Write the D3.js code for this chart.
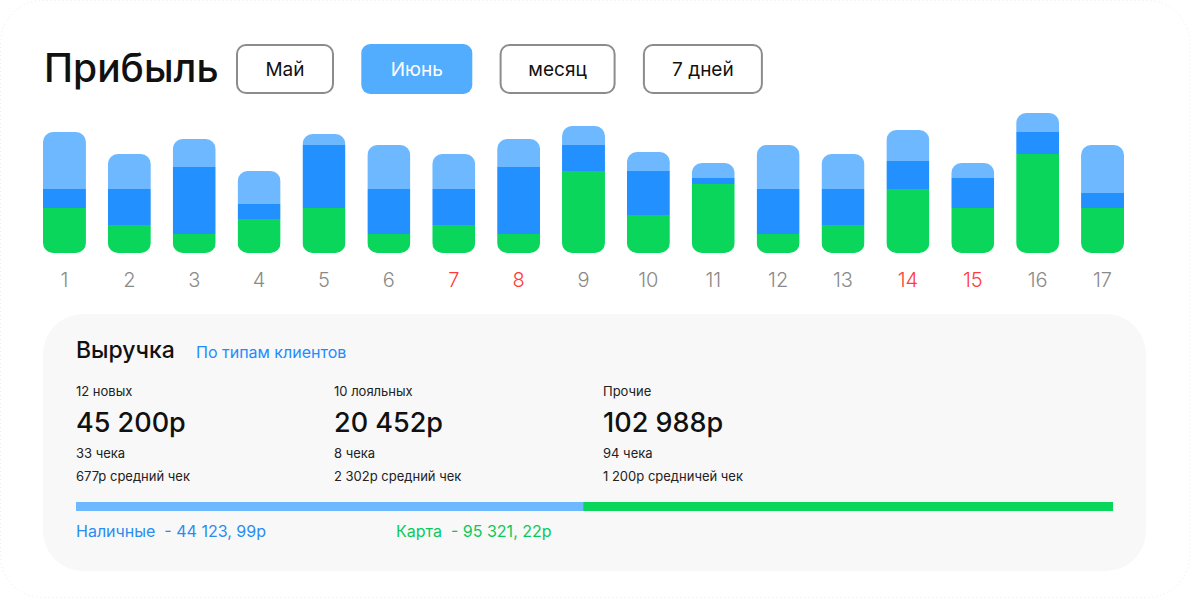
<!DOCTYPE html>
<html>
<head>
<meta charset="utf-8">
<script src="https://cdn.jsdelivr.net/npm/d3@7"></script>
<style>
    body { margin: 0; background: #ffffff; }
    svg { display: block; font-family: Inter, "Noto Sans", sans-serif; }
    text { white-space: pre; }
</style>
</head>
<body>
<div class="chartBox"></div>
<script>
// #region Data
const days = d3.range(1, 18).map(String);
const weekendDays = ['7', '8', '14', '15'];
const greenValues = [45, 28, 19, 34, 45, 19, 28, 19, 82, 38, 69, 19, 28, 64, 45, 99, 45];
const darkValues = [19, 36, 67, 15, 63, 45, 36, 67, 26, 44, 6, 45, 36, 28, 30, 22, 15];
const lightValues = [57, 35, 28, 33, 11, 44, 35, 28, 19, 19, 15, 44, 35, 31, 15, 19, 48];

const periods = ['Май', 'Июнь', 'месяц', '7 дней'];
const activePeriod = 'Июнь';

const clientGroups = ['12 новых', '10 лояльных', 'Прочие'];
const clientSums = ['45 200р', '20 452р', '102 988р'];
const clientChecks = ['33 чека', '8 чека', '94 чека'];
const clientAvg = ['677р средний чек', '2 302р средний чек', '1 200р средничей чек'];

const payTypes = ['Наличные', 'Карта'];
const payAmounts = ['44 123, 99р', '95 321, 22р'];
const payShares = [48.9, 51.1];
// #endregion

const W = 1190, H = 598;
const colors = { green: '#0AD65C', dark: '#2390FF', light: '#6DB8FF' };
const btnWidths = [98, 111, 116, 120];

const svg = d3.select('.chartBox').append('svg')
    .attr('width', W)
    .attr('height', H);

// outer card
svg.append('rect')
    .attr('x', 0.5).attr('y', 0.5)
    .attr('width', W - 1).attr('height', H - 1)
    .attr('rx', 42)
    .attr('fill', '#fff')
    .attr('stroke', '#ececec')
    .attr('stroke-dasharray', '1,3');

// #region Title + period buttons
svg.append('text')
    .attr('x', 44).attr('y', 82)
    .attr('font-size', 39)
    .attr('font-weight', 500)
    .attr('fill', '#111')
    .text('Прибыль');

let btnX = 236;
periods.forEach((p, i) => {
    const g = svg.append('g').attr('class', 'periodBtn');
    const active = p === activePeriod;
    const w = btnWidths[i];
    g.append('rect')
        .attr('x', active ? btnX : btnX + 1).attr('y', active ? 44 : 45)
        .attr('width', active ? w : w - 2).attr('height', active ? 50 : 48)
        .attr('rx', 9)
        .attr('fill', active ? '#52ADFF' : '#fff')
        .attr('stroke', active ? 'none' : '#8c8c8c')
        .attr('stroke-width', 2);
    g.append('text')
        .attr('x', btnX + w / 2).attr('y', 76)
        .attr('font-size', 19)
        .attr('fill', active ? '#fff' : '#111')
        .attr('text-anchor', 'middle')
        .text(p);
    btnX += w + 27.3;
});
// #endregion

// #region Stacked bars
const table = days.map((d, i) => ({ day: d, green: greenValues[i], dark: darkValues[i], light: lightValues[i] }));
const keys = ['green', 'dark', 'light'];
const stacked = d3.stack().keys(keys)(table);

const xScale = d3.scaleBand()
    .domain(days)
    .range([43, 1124])
    .paddingInner(0.338)
    .paddingOuter(0);
const yScale = d3.scaleLinear()
    .domain([0, 140])
    .range([253, 113]);

const defs = svg.append('defs');
table.forEach((d, i) => {
    const total = d.green + d.dark + d.light;
    defs.append('clipPath')
        .attr('id', 'barClip' + i)
        .append('rect')
        .attr('x', xScale(d.day))
        .attr('y', yScale(total))
        .attr('width', xScale.bandwidth())
        .attr('height', yScale(0) - yScale(total))
        .attr('rx', 10);
});

const gBars = svg.append('g').attr('class', 'gBars');
stacked.forEach(layer => {
    gBars.selectAll('.seg' + layer.key)
        .data(layer)
        .enter()
        .append('rect')
        .attr('class', 'seg' + layer.key)
        .attr('clip-path', (d, i) => 'url(#barClip' + i + ')')
        .attr('x', d => xScale(d.data.day))
        .attr('y', d => yScale(d[1]))
        .attr('width', xScale.bandwidth())
        .attr('height', d => yScale(d[0]) - yScale(d[1]))
        .attr('fill', colors[layer.key]);
});

svg.append('g').attr('class', 'xLabels')
    .selectAll('text')
    .data(days)
    .enter()
    .append('text')
    .attr('x', d => xScale(d) + xScale.bandwidth() / 2)
    .attr('y', 287)
    .attr('text-anchor', 'middle')
    .attr('font-size', 20)
    .attr('font-weight', 300)
    .attr('fill', d => weekendDays.includes(d) ? '#FF3B3B' : '#8a8a8a')
    .text(d => d);
// #endregion

// #region Revenue panel
svg.append('rect')
    .attr('x', 43).attr('y', 314)
    .attr('width', 1103).attr('height', 257)
    .attr('rx', 40)
    .attr('fill', '#f8f8f8');

svg.append('text')
    .attr('x', 76).attr('y', 358)
    .attr('font-size', 23)
    .attr('font-weight', 500)
    .attr('fill', '#111')
    .text('Выручка');
svg.append('text')
    .attr('x', 196).attr('y', 358)
    .attr('font-size', 16)
    .attr('fill', '#1E8CFF')
    .text('По типам клиентов');

const colX = [76, 334, 603];
const gClients = svg.append('g').attr('class', 'gClients');
clientGroups.forEach((c, i) => {
    const g = gClients.append('g').attr('transform', 'translate(' + colX[i] + ',0)');
    g.append('text').attr('y', 396).attr('font-size', 13).attr('fill', '#222').text(c);
    g.append('text').attr('y', 432).attr('font-size', 27).attr('font-weight', 500).attr('fill', '#111').text(clientSums[i]);
    g.append('text').attr('y', 458).attr('font-size', 13).attr('fill', '#222').text(clientChecks[i]);
    g.append('text').attr('y', 481).attr('font-size', 13).attr('fill', '#222').text(clientAvg[i]);
});

const payScale = d3.scaleLinear().domain([0, 100]).range([76, 1113]);
const payColors = [colors.light, colors.green];
const payTextColors = ['#2A8CF0', '#0AC95A'];
let acc = 0;
payShares.forEach((s, i) => {
    svg.append('rect')
        .attr('x', payScale(acc))
        .attr('y', 502)
        .attr('width', payScale(acc + s) - payScale(acc))
        .attr('height', 9)
        .attr('fill', payColors[i]);
    acc += s;
});
const legendX = [76, 396];
payTypes.forEach((p, i) => {
    svg.append('text')
        .attr('x', legendX[i]).attr('y', 537)
        .attr('font-size', 16)
        .attr('fill', payTextColors[i])
        .text(p + '  - ' + payAmounts[i]);
});
// #endregion
</script>
</body>
</html>
